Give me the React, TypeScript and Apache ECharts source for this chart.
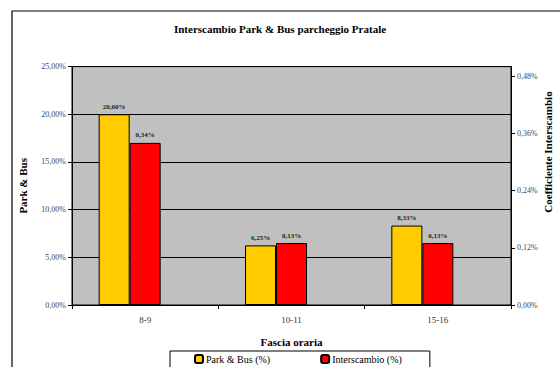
import React, { useEffect, useRef } from "react";
import * as echarts from "echarts";

const categories = ["8-9", "10-11", "15-16"];
const parkBus = [20.0, 6.25, 8.33];
const interscambio = [0.34, 0.13, 0.13];
const leftTicks = { min: 0, max: 25, interval: 5 };
const rightTicks = { min: 0, max: 0.5, interval: 0.12 };

const fmt = (v: number) => v.toFixed(2).replace(".", ",") + "%";
const SERIF = "'Liberation Serif', 'DejaVu Serif', serif";

export default function App() {
  const ref = useRef<HTMLDivElement>(null);
  useEffect(() => {
    if (!ref.current) return;
    const chart = echarts.init(ref.current, undefined, { renderer: "svg" });
    chart.setOption({
      animation: false,
      backgroundColor: "#ffffff",
      textStyle: { fontFamily: SERIF },
      title: {
        text: "Interscambio Park & Bus parcheggio Pratale",
        left: "center",
        top: 18,
        textStyle: { fontFamily: SERIF, fontSize: 11, fontWeight: "bold", color: "#000" },
      },
      grid: {
        left: 72,
        right: 49,
        top: 66.6,
        bottom: 62,
        show: true,
        backgroundColor: "#c0c0c0",
        borderColor: "#000",
        borderWidth: 1,
      },
      legend: {
        data: ["Park & Bus (%)", "Interscambio (%)"],
        left: 170,
        top: 351,
        itemWidth: 8,
        itemHeight: 8,
        itemGap: 50,
        padding: [3, 28, 8, 24],
        borderColor: "#000",
        borderWidth: 1,
        backgroundColor: "#fff",
        textStyle: { fontFamily: SERIF, fontSize: 10, color: "#000", padding: [0, 0, 0, -2] },
      },
      xAxis: {
        type: "category",
        data: categories,
        name: "Fascia oraria",
        nameLocation: "middle",
        nameGap: 31,
        nameTextStyle: { fontFamily: SERIF, fontSize: 11, fontWeight: "bold", color: "#000" },
        axisLine: { lineStyle: { color: "#000", width: 1 } },
        axisTick: { show: true, length: 4, lineStyle: { color: "#000" } },
        axisLabel: { margin: 10, fontFamily: SERIF, fontSize: 9, color: "#333" },
      },
      yAxis: [
        {
          type: "value",
          ...leftTicks,
          name: "Park & Bus",
          nameLocation: "middle",
          nameGap: 44,
          nameRotate: 90,
          nameTextStyle: { fontFamily: SERIF, fontSize: 11, fontWeight: "bold", color: "#000" },
          axisLine: { show: true, lineStyle: { color: "#000", width: 1 } },
          axisTick: { show: true, length: 4, lineStyle: { color: "#000" } },
          axisLabel: { formatter: (v: number) => fmt(v), fontFamily: SERIF, fontSize: 8, color: "#444", margin: 6 },
          splitLine: { show: true, lineStyle: { color: "#000", width: 1 } },
        },
        {
          type: "value",
          ...rightTicks,
          position: "right",
          axisLine: { show: true, lineStyle: { color: "#000", width: 1 } },
          axisTick: { show: true, length: 4, lineStyle: { color: "#000" } },
          axisLabel: { formatter: (v: number) => fmt(v), fontFamily: SERIF, fontSize: 8, color: "#444", margin: 6, showMaxLabel: false },
          splitLine: { show: false },
        },
      ],
      graphic: [
        {
          type: "rect",
          shape: { x: 12, y: 11, width: 600, height: 420 },
          style: { fill: "none", stroke: "#000", lineWidth: 1.2 },
          silent: true,
          z: 100,
        },
        {
          type: "text",
          x: 548,
          y: 152,
          rotation: Math.PI / 2,
          style: {
            text: "Coefficiente Interscambio",
            fontFamily: SERIF,
            fontSize: 11,
            fontWeight: "bold",
            fill: "#000",
            align: "center",
            verticalAlign: "middle",
          },
        },
      ],
      series: [
        {
          name: "Park & Bus (%)",
          type: "bar",
          yAxisIndex: 0,
          data: parkBus,
          barWidth: 31,
          barGap: "0%",
          itemStyle: { color: "#ffcc00", borderColor: "#000", borderWidth: 1 },
          label: {
            show: true,
            position: "top",
            distance: 4,
            formatter: (p: any) => fmt(p.value),
            fontFamily: SERIF,
            fontSize: 7,
            fontWeight: "bold",
            color: "#222",
          },
        },
        {
          name: "Interscambio (%)",
          type: "bar",
          yAxisIndex: 1,
          data: interscambio,
          barWidth: 31,
          barGap: "0%",
          itemStyle: { color: "#ff0000", borderColor: "#000", borderWidth: 1 },
          label: {
            show: true,
            position: "top",
            distance: 4,
            formatter: (p: any) => fmt(p.value),
            fontFamily: SERIF,
            fontSize: 7,
            fontWeight: "bold",
            color: "#222",
          },
        },
        {
          name: "_spacer",
          type: "bar",
          yAxisIndex: 0,
          data: categories.map(() => null),
          barWidth: 31,
          barGap: "0%",
          silent: true,
          itemStyle: { color: "transparent" },
        },
      ],
    });
    return () => chart.dispose();
  }, []);
  return (
    <div
      ref={ref}
      style={{ position: "fixed", left: 0, top: 0, width: 560, height: 367 }}
    />
  );
}
